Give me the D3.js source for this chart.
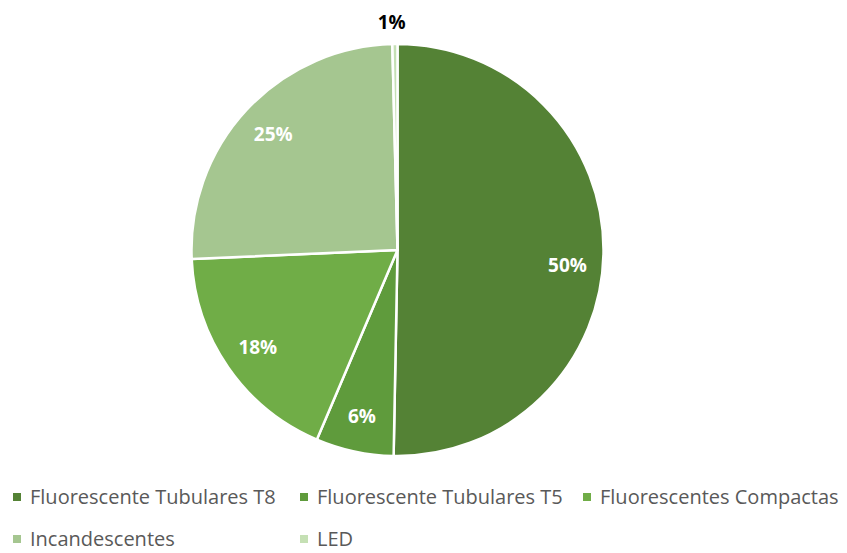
<!doctype html>
<html>
<head>
<meta charset="UTF-8">
<title>Lamparas</title>
<script src="https://d3js.org/d3.v7.min.js"></script>
<style>
  body { margin: 0; background: #fff; }
  * { font-family: "Open Sans", "Noto Sans", sans-serif; }
</style>
</head>
<body>
<script>
// categories and shares (%), clockwise from 12 o'clock
var categories = ["Fluorescente Tubulares T8", "Fluorescente Tubulares T5", "Fluorescentes Compactas", "Incandescentes", "LED"];
var values = [50.3, 6.1, 17.9, 25.3, 0.4];
var labels = ["50%", "6%", "18%", "25%", "1%"];
var colors = ["#548235", "#5f9b3c", "#70ad47", "#a5c690", "#c5e0b4"];

var width = 847, height = 553;
var cx = 397.5, cy = 250, radius = 206;

var svg = d3.select("body").append("svg")
    .attr("width", width)
    .attr("height", height);

var pie = d3.pie().sort(null).value(function(d) { return d; });
var arcs = pie(values);

var arc = d3.arc().innerRadius(0).outerRadius(radius);
var labelArc = d3.arc().innerRadius(170).outerRadius(170);

var g = svg.append("g").attr("transform", "translate(" + cx + "," + cy + ")");

g.selectAll("path")
    .data(arcs)
    .enter().append("path")
    .attr("d", arc)
    .attr("fill", function(d, i) { return colors[i]; })
    .attr("stroke", "#fff")
    .attr("stroke-width", 2.5)
    .attr("stroke-linejoin", "round");

// data labels; the tiny LED slice gets its label outside, in black
g.selectAll("text.lbl")
    .data(arcs)
    .enter().append("text")
    .attr("class", "lbl")
    .attr("transform", function(d, i) {
        if (i == 4) {
            var a = (d.startAngle + d.endAngle) / 2;
            var r = radius + 22;
            return "translate(" + (Math.sin(a) * r - 3) + "," + (-Math.cos(a) * r) + ")";
        }
        var c = labelArc.centroid(d);
        if (i == 0) c[1] += 14; // excel nudges this one down
        return "translate(" + c + ")";
    })
    .attr("text-anchor", "middle")
    .attr("dy", "0.36em")
    .attr("font-size", 19)
    .attr("font-weight", "bold")
    .attr("fill", function(d, i) { return i == 4 ? "#000" : "#fff"; })
    .text(function(d, i) { return labels[i]; });

// legend
var legendPos = [[13, 497], [300, 497], [583, 497], [13, 539], [300, 539]];
var leg = svg.selectAll("g.leg")
    .data(categories)
    .enter().append("g")
    .attr("class", "leg")
    .attr("transform", function(d, i) { return "translate(" + legendPos[i][0] + "," + legendPos[i][1] + ")"; });

leg.append("rect")
    .attr("x", 0).attr("y", -4)
    .attr("width", 8).attr("height", 8)
    .attr("fill", function(d, i) { return colors[i]; });

leg.append("text")
    .attr("x", 17)
    .attr("dy", "0.35em")
    .attr("font-size", 20)
    .attr("fill", "#595959")
    .text(function(d) { return d; });
</script>
</body>
</html>
